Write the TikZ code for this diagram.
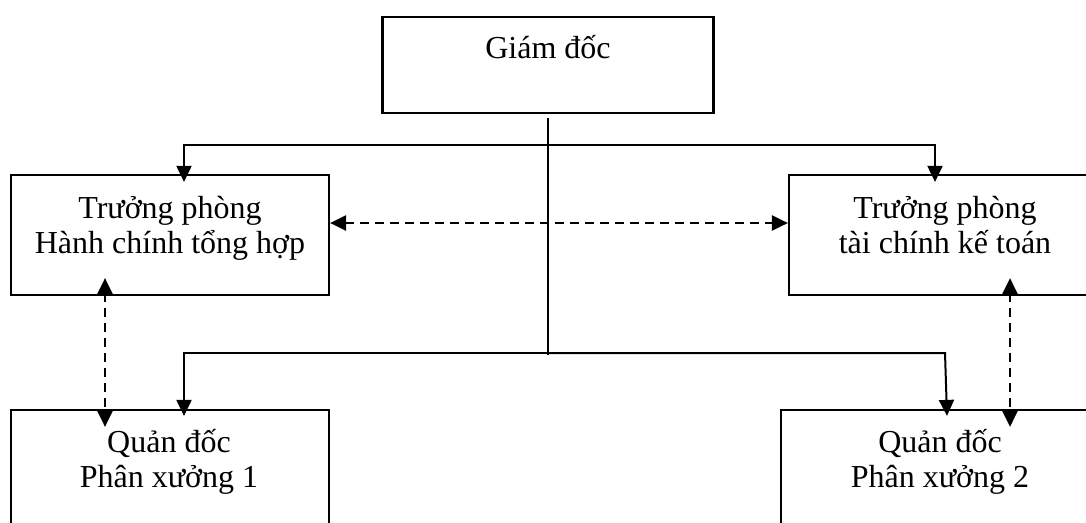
\documentclass[tikz,border=0pt]{standalone}
\usepackage{fontspec}
\setmainfont{Liberation Serif}
\usetikzlibrary{arrows.meta}
\begin{document}
\begin{tikzpicture}[x=1pt,y=-1pt,
  box/.style={draw, line width=2.2pt, rectangle, inner sep=0pt, minimum width=318pt},
  lbl/.style={font=\fontsize{32}{35}\selectfont, align=center, inner sep=0pt, anchor=base},
  link/.style={line width=2pt},
  arr/.style={link, -{Triangle[length=16pt,width=15pt]}},
  dual/.style={link, line width=2.5pt, dash pattern=on 9pt off 6pt,
    {Triangle[length=16pt,width=15pt]}-{Triangle[length=16pt,width=15pt]}},
]
\useasboundingbox (0,0) rectangle (1086,522);
\clip (0,0) rectangle (1086,522);

% boxes
\node[box, minimum width=331pt, minimum height=96pt] (gd) at (548,65) {};
\node[box, minimum height=120pt] (l1) at (170,235) {};
\node[box, minimum height=120pt] (r1) at (948,235) {};
\node[box, minimum height=130pt] (l2) at (170,475) {};
\node[box, minimum height=130pt] (r2) at (940,475) {};

% labels (anchored at the baseline of the last line)
\node[lbl] (gd-t) at (548,58) {Giám đốc};
\node[lbl] (l1-t) at (170,253) {Trưởng phòng\\Hành chính tổng hợp};
\node[lbl] (r1-t) at (945,253) {Trưởng phòng\\tài chính kế toán};
\node[lbl] (l2-t) at (169,487) {Quản đốc\\Phân xưởng 1};
\node[lbl] (r2-t) at (940,487) {Quản đốc\\Phân xưởng 2};

% trunk and branches
\coordinate (hub1) at (548,145);
\coordinate (hub2) at (548,353);
\draw[link] ([yshift=-4pt]gd.south) -- ([yshift=-2pt]hub2);
\draw[arr] (hub1) -| ([xshift=14pt,yshift=-8pt]l1.north);
\draw[arr] (hub1) -| ([xshift=-13pt,yshift=-8pt]r1.north);
\draw[arr] (hub2) -| ([xshift=14pt,yshift=-7pt]l2.north);
\draw[arr] (hub2) -- ([xshift=5pt]r2.north |- hub2) -- ([xshift=7pt,yshift=-7pt]r2.north);

% coordination links
\draw[dual] ([yshift=12pt]l1.east) -- ([yshift=12pt]r1.west);
\draw[dual] ([xshift=-65pt,yshift=18pt]l1.south) -- ([xshift=-65pt,yshift=-18pt]l2.north);
\draw[dual] ([xshift=62pt,yshift=18pt]r1.south) -- ([xshift=70pt,yshift=-18pt]r2.north);
\end{tikzpicture}
\end{document}
